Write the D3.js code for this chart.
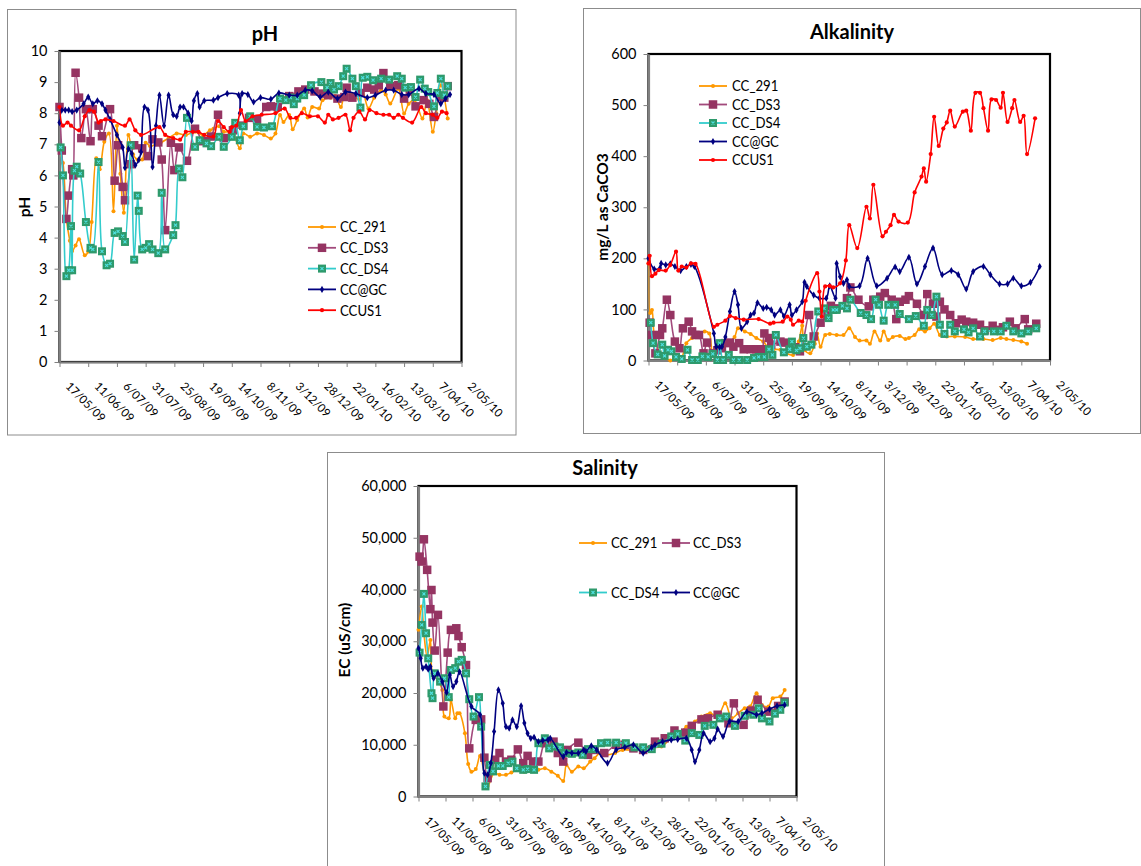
<!DOCTYPE html>
<html>
<head>
<meta charset="utf-8">
<script src="https://d3js.org/d3.v7.min.js"></script>
<style>
  body { margin: 0; background: #fff; }
  svg { display: block; font-family: Lato, "Open Sans", sans-serif; }
</style>
</head>
<body>
<svg id="chart" width="1141" height="866"></svg>
<script>
// x axis tick labels (25 day steps)
const tickLabels = ["17/05/09", "11/06/09", "6/07/09", "31/07/09", "25/08/09", "19/09/09", "14/10/09",
  "8/11/09", "3/12/09", "28/12/09", "22/01/10", "16/02/10", "13/03/10", "7/04/10", "2/05/10"]
const seriesNames = ["CC_291", "CC_DS3", "CC_DS4", "CC@GC", "CCUS1"]
const phTicks = [0, 1, 2, 3, 4, 5, 6, 7, 8, 9, 10]
const alkTicks = [0, 100, 200, 300, 400, 500, 600]
const ecTicks = [0, 10000, 20000, 30000, 40000, 50000, 60000]

// samples: [days after 17/05/09, value]
const ph291 = [[0,6.8],[3,6.4],[6,4.6],[9,3.9],[11,3.57],[14,3.75],[17,3.95],[22,3.43],[25,3.55],[28,4.5],[32,6.55],[35,6.2],[39,7.08],[43,7.35],[47,4.85],[50,7.6],[53,6.05],[56,4.8],[60,7.3],[64,6.68],[68,6.5],[72,6.51],[75,7.05],[79,6.94],[84,7.0],[88,7.05],[95,7.2],[102,7.35],[110,7.3],[118,7.4],[125,7.3],[131,7.45],[134,7.5],[139,7.58],[143,7.4],[150,7.4],[157,6.87],[160,7.35],[166,7.24],[172,7.35],[178,7.3],[184,7.19],[188,7.35],[192,7.94],[195,7.72],[200,7.94],[203,7.48],[207,7.78],[213,8.15],[216,7.86],[220,8.2],[226,8.15],[229,8.42],[236,8.5],[240,8.55],[245,8.2],[249,8.74],[255,8.6],[261,8.44],[264,8.68],[269,8.15],[274,8.5],[280,8.74],[284,8.6],[288,8.31],[295,8.79],[300,7.99],[304,8.3],[309,8.42],[316,7.83],[320,8.42],[325,7.4],[328,8.0],[332,8.9],[338,7.83]]
const phDS3 = [[0,8.2],[2,6.8],[6,4.6],[8,5.35],[11,6.2],[12,6.0],[14,9.3],[17,8.5],[19,7.2],[23,8.13],[27,7.1],[29,8.13],[34,7.6],[37,7.26],[44,8.13],[48,5.83],[51,6.97],[55,5.63],[57,5.2],[62,6.36],[65,6.97],[72,6.87],[77,6.62],[81,7.16],[86,7.06],[89,6.51],[92,4.24],[97,7.05],[100,6.17],[104,6.9],[111,6.47],[118,7.5],[125,7.1],[132,7.25],[138,7.95],[143,7.2],[151,7.45],[160,7.6],[165,7.85],[172,7.8],[180,8.2],[184,8.22],[190,8.2],[200,8.55],[208,8.7],[214,8.76],[222,8.7],[229,8.63],[234,8.58],[242,8.47],[248,8.52],[250,8.82],[255,8.5],[262,8.65],[268,8.82],[274,8.76],[278,8.9],[282,9.29],[288,8.87],[295,8.9],[300,8.47],[305,8.7],[310,8.22],[317,8.42],[322,8.3],[326,7.88],[331,8.52],[335,8.5],[338,8.87]]
const phDS4 = [[1,6.9],[3,6.0],[6,2.76],[8,2.95],[10,4.37],[11,2.95],[13,6.15],[15,6.28],[18,6.06],[23,4.5],[27,3.67],[29,3.62],[34,6.43],[37,3.56],[41,3.11],[44,3.16],[48,4.15],[51,4.2],[55,4.05],[57,3.86],[62,6.97],[65,3.29],[68,5.35],[69,4.86],[72,3.62],[75,3.67],[78,3.79],[81,3.62],[86,3.5],[89,5.44],[92,3.62],[99,4.08],[101,4.4],[104,6.22],[107,5.94],[111,7.85],[118,6.92],[122,7.13],[128,7.03],[132,6.94],[139,7.24],[143,6.92],[150,7.24],[153,7.69],[157,7.13],[160,7.58],[166,7.9],[172,7.56],[178,7.54],[185,7.58],[192,8.47],[197,8.42],[201,8.5],[204,8.29],[207,8.47],[213,8.58],[219,8.9],[228,9.0],[233,8.82],[236,8.97],[239,8.76],[243,8.87],[247,9.19],[250,9.43],[255,9.11],[258,8.87],[262,8.18],[264,9.14],[268,9.17],[273,9.06],[280,9.11],[287,9.08],[294,9.19],[298,9.11],[301,8.82],[306,8.84],[310,8.52],[314,9.08],[318,8.79],[321,8.68],[326,8.22],[329,8.65],[332,9.11],[335,8.58],[338,8.87]]
const phGC = [[0,7.7],[2,8.1],[5,8.1],[8,8.1],[11,8.05],[15,8.1],[21,8.3],[25,8.52],[29,8.3],[33,8.4],[37,8.3],[40,8.1],[44,7.8],[50,7.3],[55,6.9],[57,6.25],[60,6.85],[63,6.7],[66,6.33],[69,6.5],[71,6.75],[74,8.2],[77,8.1],[81,6.27],[84,7.6],[87,8.58],[91,7.6],[95,8.58],[99,7.95],[102,7.9],[105,8.2],[108,8.2],[112,8.0],[115,7.75],[117,8.4],[120,8.63],[122,8.2],[126,8.4],[134,8.42],[138,8.5],[146,8.63],[156,8.58],[157,8.0],[159,8.63],[164,8.6],[169,8.36],[175,8.5],[184,8.45],[191,8.65],[200,8.58],[207,8.58],[214,8.74],[220,8.72],[227,8.52],[234,8.68],[242,8.47],[249,8.68],[258,8.63],[268,8.5],[275,8.58],[284,8.74],[291,8.74],[298,8.6],[304,8.6],[313,8.79],[319,8.63],[326,8.6],[332,8.3],[336,8.47],[340,8.6]]
const phUS1 = [[0,8.2],[3,7.6],[7,7.7],[10,7.6],[17,7.45],[22,7.9],[26,8.1],[30,8.05],[34,7.7],[36,7.75],[40,7.8],[47,7.75],[57,7.6],[61,7.8],[66,7.45],[71,7.3],[87,7.55],[92,7.3],[99,7.2],[105,7.15],[110,7.4],[116,7.4],[121,7.4],[126,7.3],[134,7.25],[138,7.75],[143,7.55],[148,7.4],[150,7.55],[154,7.6],[158,8.1],[162,7.75],[168,7.9],[176,7.95],[188,8.0],[196,8.15],[201,7.85],[206,7.85],[211,8.0],[218,7.9],[225,7.9],[231,7.7],[234,7.95],[238,7.8],[243,7.85],[249,7.95],[253,7.45],[256,7.85],[261,8.05],[266,7.8],[270,8.1],[276,8.0],[282,7.95],[287,7.95],[291,7.85],[295,7.95],[299,7.85],[307,7.7],[315,8.2],[319,8.0],[325,7.95],[329,7.85],[333,8.05],[337,8.0]]

const alk291 = [[0,190],[1.5,93],[3,99],[5,50],[10,14],[14,5],[19,0],[28,2],[33,34],[38,44],[45,53],[49,57],[53,53],[56,14],[60,24],[64,37],[68,34],[75,46],[78,63],[84,57],[89,52],[94,44],[100,37],[105,24],[109,22],[115,21],[120,14],[126,11],[131,37],[134,68],[136,21],[141,14],[145,33],[147,53],[150,27],[154,50],[158,52],[164,50],[170,50],[175,63],[180,46],[184,39],[190,39],[193,33],[197,57],[202,39],[205,57],[209,40],[213,46],[219,48],[224,42],[227,44],[232,50],[236,61],[241,57],[245,63],[249,72],[254,50],[260,47],[267,47],[276,46],[283,42],[292,42],[300,40],[307,44],[312,42],[318,40],[325,37],[330,33]]
const alkDS3 = [[1,74],[3,50],[6,14],[10,50],[12,63],[16,119],[19,89],[23,37],[27,24],[30,63],[35,76],[38,57],[41,50],[44,50],[48,14],[51,35],[56,14],[60,20],[64,24],[67,34],[71,35],[74,27],[79,34],[83,22],[89,22],[94,22],[99,22],[101,53],[105,44],[107,31],[115,37],[118,35],[123,26],[128,26],[132,18],[140,89],[144,47],[150,74],[156,87],[159,107],[164,102],[173,122],[176,143],[183,119],[192,106],[196,119],[202,125],[206,132],[212,119],[216,81],[219,115],[224,119],[227,126],[234,111],[240,89],[243,130],[248,111],[251,86],[254,115],[258,100],[263,89],[268,73],[273,80],[277,76],[283,74],[289,70],[293,59],[300,68],[305,60],[309,65],[315,76],[320,63],[328,81],[331,61],[338,72]]
const alkDS4 = [[2,74],[4,34],[8,12],[12,31],[14,9],[17,21],[20,18],[24,7],[29,3],[34,21],[38,1],[43,1],[47,8],[52,7],[56,13],[60,1],[62,34],[65,1],[70,11],[74,1],[79,1],[86,1],[92,5],[96,7],[101,7],[105,22],[108,11],[111,50],[118,16],[123,22],[125,37],[129,20],[132,24],[135,44],[138,27],[142,31],[148,96],[153,102],[157,83],[161,99],[164,99],[169,107],[173,102],[176,119],[185,93],[190,89],[194,81],[198,119],[201,109],[205,78],[209,109],[215,109],[219,91],[227,81],[233,87],[240,68],[243,99],[247,89],[251,125],[254,70],[258,52],[263,70],[267,57],[275,61],[279,55],[283,63],[289,47],[293,57],[301,57],[307,57],[312,68],[318,57],[325,53],[331,57],[338,63]]
const alkGC = [[0,200],[5,179],[10,181],[11,190],[15,187],[19,189],[23,184],[28,176],[33,184],[37,188],[40,184],[57,53],[59,27],[62,26],[64,27],[67,46],[71,96],[75,135],[78,109],[81,63],[86,76],[89,89],[92,93],[95,113],[100,102],[103,104],[107,99],[110,89],[115,99],[118,87],[123,109],[125,89],[129,99],[134,115],[136,153],[138,145],[144,128],[149,122],[155,122],[158,146],[163,122],[164,190],[167,164],[170,151],[173,158],[175,145],[184,146],[191,200],[199,146],[208,161],[215,183],[219,174],[227,202],[234,150],[241,184],[248,220],[256,168],[264,176],[270,168],[277,140],[283,174],[292,184],[298,168],[306,150],[313,150],[318,161],[325,146],[333,153],[341,184]]
const alkUS1 = [[0,190],[1,205],[3,165],[6,170],[9,177],[15,176],[19,187],[24,213],[26,176],[29,184],[33,182],[37,190],[41,189],[57,66],[60,70],[67,78],[71,87],[76,83],[83,80],[96,81],[106,72],[109,74],[117,76],[121,86],[124,80],[126,70],[131,78],[134,76],[137,117],[147,171],[149,135],[151,86],[154,145],[158,146],[161,143],[167,151],[172,196],[175,265],[182,220],[190,301],[193,278],[196,344],[204,243],[207,252],[211,265],[214,285],[218,272],[226,270],[232,329],[238,360],[240,376],[242,350],[246,404],[249,477],[253,420],[257,454],[260,466],[263,489],[267,458],[274,487],[277,489],[281,450],[285,524],[289,524],[292,494],[296,450],[299,511],[303,510],[307,495],[309,524],[313,467],[317,494],[319,510],[324,467],[327,479],[330,404],[337,474]]

const ec291 = [[0,32200],[3,36700],[5,31550],[8,27000],[11,30250],[13,23800],[18,22500],[22,20600],[24,15450],[28,15100],[30,18650],[34,15100],[36,16100],[38,16100],[43,12200],[46,6300],[49,4800],[53,5300],[57,7850],[64,2050],[70,4500],[75,4200],[81,4200],[86,4650],[92,5150],[98,4800],[104,5300],[111,5150],[117,5450],[123,4800],[129,4000],[134,3000],[137,6100],[142,4800],[148,5800],[153,5450],[159,6750],[163,7400],[168,8400],[174,8050],[182,8400],[189,9000],[197,9000],[206,9650],[216,9500],[225,9650],[234,11250],[240,11900],[248,13500],[256,14500],[262,15450],[270,16100],[277,15450],[284,18000],[290,15150],[296,16100],[302,17050],[307,17400],[313,19950],[318,17700],[324,17400],[328,19000],[335,19300],[339,20600]]
const ecDS3 = [[1,46350],[3,45400],[5,49700],[8,43800],[11,36200],[12,39900],[13,33600],[15,28200],[18,35100],[23,17400],[27,27800],[30,32200],[35,32500],[37,31000],[40,28850],[44,25400],[47,9300],[53,14800],[58,14900],[61,7500],[64,3550],[71,7100],[75,8400],[81,6750],[86,7100],[92,9100],[97,6450],[101,7850],[106,6750],[111,6750],[117,10300],[125,10600],[129,8400],[134,6750],[138,9000],[148,10400],[157,8050],[163,9000],[172,8400],[183,10000],[191,10000],[199,9300],[208,9000],[219,10600],[228,11250],[237,12750],[247,12350],[253,13650],[262,14900],[268,15100],[277,15800],[287,14150],[292,18000],[301,13850],[308,16600],[314,18700],[324,16400],[333,17500],[339,18350]]
const ecDS4 = [[1,27800],[3,33150],[5,39150],[7,31550],[9,26700],[12,19950],[13,19000],[15,23800],[20,22200],[24,22850],[28,19200],[30,24450],[34,24800],[37,26050],[40,26400],[44,23800],[47,18800],[51,15450],[56,19200],[58,13500],[62,1950],[66,6100],[69,4850],[74,5900],[78,5900],[83,6450],[87,6750],[91,5450],[97,5150],[101,5300],[107,5150],[111,10300],[117,11250],[121,9300],[126,9650],[131,9500],[135,8400],[142,8250],[148,8500],[152,8050],[157,9150],[163,9150],[169,10300],[175,10400],[183,10400],[192,10300],[200,9500],[208,9500],[216,9150],[225,10200],[234,11600],[240,12100],[247,10800],[253,12250],[260,11900],[265,13650],[273,13850],[279,15100],[285,15450],[293,13650],[302,15600],[310,15800],[315,17050],[318,15100],[325,14500],[330,16000],[335,16750],[339,18150]]
const ecGC = [[0,28650],[2,26700],[4,24800],[7,25100],[9,24600],[11,25100],[14,22850],[18,23800],[22,22200],[26,20100],[29,23500],[32,21250],[35,22200],[38,24100],[49,17400],[57,15800],[61,4500],[64,4200],[67,6450],[70,12550],[74,20600],[78,18000],[81,13500],[84,13200],[87,14800],[91,13500],[95,17500],[98,14200],[101,12200],[104,11250],[107,11450],[111,10600],[115,10800],[120,10950],[122,11250],[134,7700],[137,8500],[142,8400],[148,8400],[153,9000],[155,8700],[160,9800],[165,9000],[175,6450],[183,9000],[191,9500],[199,10000],[208,8400],[216,9500],[219,10000],[226,10600],[234,10950],[240,11050],[248,11250],[253,9000],[256,6750],[260,9000],[264,12200],[270,10600],[274,11250],[277,13000],[282,11600],[288,14500],[296,14500],[304,16400],[313,15800],[318,16100],[325,16900],[332,17500],[339,17700]]

const styles = {
  "CC_291": { line: "#FF9900", marker: "circle", fill: "#FF9900", size: 2 },
  "CC_DS3": { line: "#A24A7C", marker: "square", fill: "#953462", size: 8.5 },
  "CC_DS4": { line: "#33CCCC", marker: "squareX", fill: "#2E9A6C", size: 8 },
  "CC@GC": { line: "#000080", marker: "diamond", fill: "#000080", size: 15 },
  "CCUS1": { line: "#FF0000", marker: "circle", fill: "#FF0000", size: 2.1 }
}

const parseLabel = d3.utcParse("%d/%m/%y")
const tickDates = tickLabels.map(parseLabel)
const startDate = tickDates[0]
const svg = d3.select("#chart")

function drawMarkers(g, pts, st) {
  if (st.marker === "circle") {
    g.selectAll(null).data(pts).join("circle")
      .attr("cx", d => d[0]).attr("cy", d => d[1]).attr("r", st.size).attr("fill", st.fill)
  } else if (st.marker === "diamond") {
    g.selectAll(null).data(pts).join("path")
      .attr("transform", d => `translate(${d[0]},${d[1]})`)
      .attr("d", d3.symbol().type(d3.symbolDiamond).size(st.size)).attr("fill", st.fill)
  } else {
    const s = st.size
    g.selectAll(null).data(pts).join("rect")
      .attr("x", d => d[0] - s / 2).attr("y", d => d[1] - s / 2)
      .attr("width", s).attr("height", s).attr("fill", st.fill)
    if (st.marker === "squareX") {
      g.selectAll(null).data(pts).join("path")
        .attr("d", d => `M${d[0]-1.5},${d[1]-1.5}L${d[0]+1.5},${d[1]+1.5}M${d[0]-1.5},${d[1]+1.5}L${d[0]+1.5},${d[1]-1.5}`)
        .attr("stroke", "#4FE0E0").attr("stroke-width", 1.1)
    }
  }
}

function drawPanel(cfg) {
  const g = svg.append("g")
  g.append("rect")
    .attr("x", cfg.frame[0]).attr("y", cfg.frame[1]).attr("width", cfg.frame[2]).attr("height", cfg.frame[3])
    .attr("fill", "#fff").attr("stroke", "#8c8c8c").attr("stroke-width", 1)

  const x = d3.scaleUtc().domain([tickDates[0], tickDates[tickDates.length - 1]]).range([cfg.left, cfg.right])
  const y = d3.scaleLinear().domain([cfg.yTicks[0], cfg.yTicks[cfg.yTicks.length - 1]]).range([cfg.bottom, cfg.top])
  const dayWidth = x(d3.utcDay.offset(startDate, 1)) - x(startDate)

  g.append("text").attr("x", cfg.title[1]).attr("y", cfg.title[2])
    .attr("text-anchor", "middle").attr("font-weight", "bold").attr("font-size", 20).text(cfg.title[0])
  g.append("text").attr("transform", `translate(${cfg.yTitle[1]},${cfg.yTitle[2]}) rotate(-90)`)
    .attr("text-anchor", "middle").attr("font-weight", "bold").attr("font-size", 15.5).text(cfg.yTitle[0])

  // plot area border
  g.append("rect").attr("x", cfg.left).attr("y", cfg.top)
    .attr("width", cfg.right - cfg.left).attr("height", cfg.bottom - cfg.top)
    .attr("fill", "none").attr("stroke", "#000").attr("stroke-width", 2.2)

  const ya = g.append("g").attr("transform", `translate(${cfg.left},0)`)
    .call(d3.axisLeft(y).tickValues(cfg.yTicks).tickSize(5).tickSizeOuter(0).tickFormat(cfg.fmt))
  ya.select(".domain").attr("stroke", "#808080").attr("stroke-width", 2.2)
  ya.selectAll(".tick line").attr("stroke", "#808080")
  ya.selectAll(".tick text").attr("x", -12).attr("font-size", 14.5).attr("font-family", "Lato").attr("fill", "#000")

  const xa = g.append("g").attr("transform", `translate(0,${cfg.bottom})`)
    .call(d3.axisBottom(x).tickValues(tickDates).tickSize(5).tickSizeOuter(0).tickFormat((d, i) => tickLabels[i]))
  xa.select(".domain").attr("stroke", "#808080").attr("stroke-width", 2.2)
  xa.selectAll(".tick line").attr("stroke", "#808080")
  xa.selectAll(".tick text").attr("x", 0).attr("y", 0).attr("dy", null)
    .attr("text-anchor", "start").attr("transform", "translate(5,25) rotate(45)")
    .attr("font-size", 11.5).attr("font-family", "Lato").attr("fill", "#000")

  const clipId = "clip" + cfg.id
  g.append("clipPath").attr("id", clipId).append("rect")
    .attr("x", cfg.left).attr("y", cfg.top).attr("width", cfg.right - cfg.left).attr("height", cfg.bottom - cfg.top)

  const line = d3.line().curve(d3.curveCatmullRom)
  seriesNames.forEach(name => {
    const data = cfg.data[name]
    if (!data) return
    const st = styles[name]
    const pts = data.map(d => [x(d3.utcDay.offset(startDate, Math.floor(d[0]))) + (d[0] % 1) * dayWidth, y(d[1])])
    const sg = g.append("g")
    sg.append("path").attr("d", line(pts)).attr("fill", "none")
      .attr("stroke", st.line).attr("stroke-width", 1.6).attr("clip-path", `url(#${clipId})`)
    drawMarkers(sg, pts, st)
  })

  // legend
  const lg = cfg.legend
  seriesNames.filter(n => cfg.data[n]).forEach((name, i) => {
    const col = lg.cols[i % lg.cols.length]
    const ly = lg.y0 + Math.floor(i / lg.cols.length) * lg.step
    const st = styles[name]
    g.append("line").attr("x1", col[0]).attr("x2", col[1]).attr("y1", ly).attr("y2", ly)
      .attr("stroke", st.line).attr("stroke-width", 1.8)
    drawMarkers(g.append("g"), [[(col[0] + col[1]) / 2, ly]], st)
    g.append("text").attr("transform", `translate(${col[2]},${ly}) scale(0.88,1)`).attr("dy", "0.36em")
      .attr("font-size", 15).text(name)
  })
}

drawPanel({
  id: "ph", frame: [7.5, 9.5, 508.5, 425.5],
  left: 59.5, right: 461.5, top: 51, bottom: 362,
  yTicks: phTicks, fmt: d3.format("d"),
  title: ["pH", 265, 41], yTitle: ["pH", 30, 207],
  legend: { cols: [[308, 336, 340]], y0: 227, step: 20.8 },
  data: { "CC_291": ph291, "CC_DS3": phDS3, "CC_DS4": phDS4, "CC@GC": phGC, "CCUS1": phUS1 }
})

drawPanel({
  id: "alk", frame: [583.5, 8.5, 557, 425],
  left: 648.5, right: 1050, top: 54, bottom: 360.5,
  yTicks: alkTicks, fmt: d3.format("d"),
  title: ["Alkalinity", 852, 39], yTitle: ["mg/L as CaCO3", 608, 207],
  legend: { cols: [[699, 727, 732]], y0: 86, step: 18.5 },
  data: { "CC_291": alk291, "CC_DS3": alkDS3, "CC_DS4": alkDS4, "CC@GC": alkGC, "CCUS1": alkUS1 }
})

drawPanel({
  id: "ec", frame: [327.5, 452.5, 557, 420],
  left: 418.5, right: 796.5, top: 486, bottom: 796.5,
  yTicks: ecTicks, fmt: d3.format(","),
  title: ["Salinity", 605, 475], yTitle: ["EC (uS/cm)", 350, 640],
  legend: { cols: [[579, 607, 611], [662, 690, 693]], y0: 543, step: 49.5 },
  data: { "CC_291": ec291, "CC_DS3": ecDS3, "CC_DS4": ecDS4, "CC@GC": ecGC }
})
</script>
</body>
</html>
